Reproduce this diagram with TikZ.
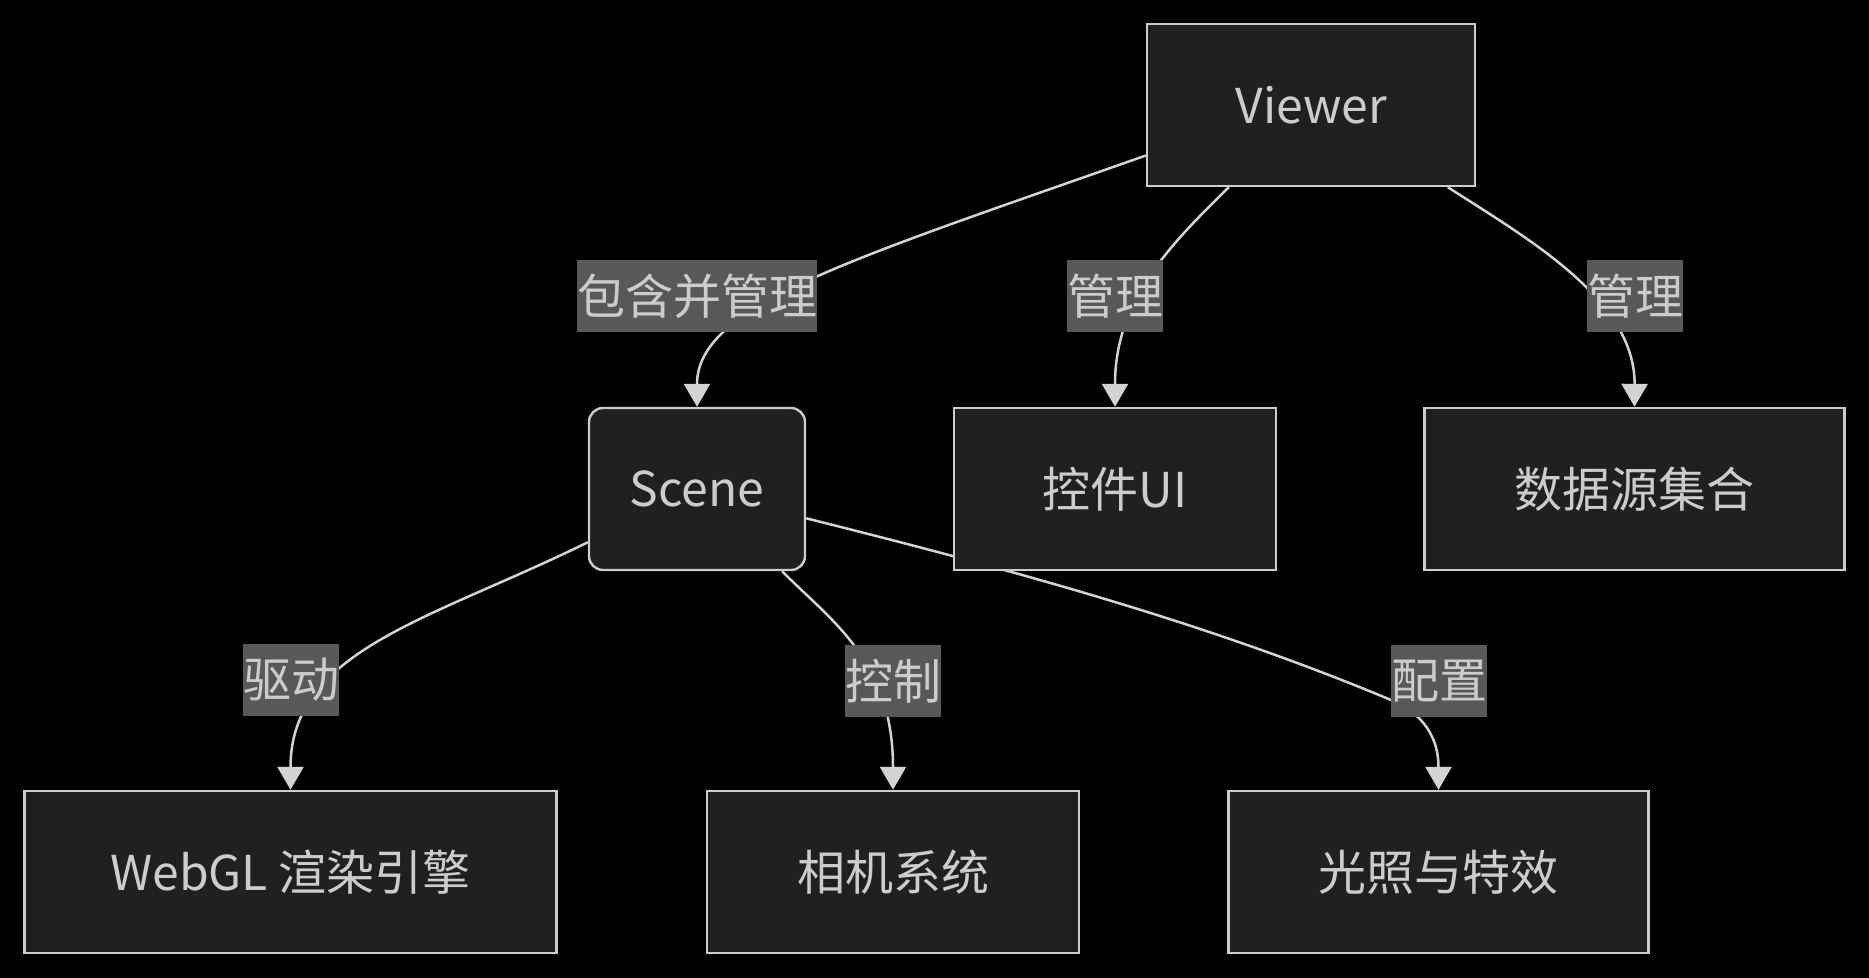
\documentclass[tikz,border=0pt]{standalone}
\usepackage{fontspec}
\setmainfont{Noto Sans CJK SC}
\usetikzlibrary{arrows.meta,backgrounds}
\definecolor{bgcol}{HTML}{000000}
\definecolor{nodefill}{HTML}{1F2020}
\definecolor{nodeline}{HTML}{CCCCCC}
\definecolor{txtcol}{HTML}{CCCCCC}
\definecolor{edgecol}{HTML}{D3D3D3}
\definecolor{lblfill}{HTML}{585858}
\begin{document}
\begin{tikzpicture}[x=0.5pt,y=-0.5pt,
  box/.style={draw=nodeline, fill=nodefill, line width=1.2pt, text=txtcol,
    font=\fontsize{24}{29}\selectfont, minimum height=81pt, inner sep=0pt},
  rbox/.style={box, rounded corners=7pt},
  elabel/.style={fill=lblfill, text=txtcol, font=\fontsize{24}{29}\selectfont,
    inner xsep=0pt, inner ysep=0pt, minimum height=36pt},
  conn/.style={draw=edgecol, line width=1.25pt, -{Triangle[width=13pt,length=11.5pt]}}
]
\useasboundingbox (0,0) rectangle (1869,978);
% nodes
\node[box, minimum width=164pt] (viewer) at (1311,105) {Viewer};
\node[rbox, minimum width=108pt] (scene) at (697,489) {Scene};
\node[box, minimum width=161pt] (ui) at (1115,489) {控件UI};
\node[box, minimum width=210pt] (data) at (1634.5,489) {数据源集合};
\node[box, minimum width=266pt] (webgl) at (290.5,872) {WebGL 渲染引擎};
\node[box, minimum width=186pt] (camera) at (893,872) {相机系统};
\node[box, minimum width=210pt] (light) at (1438.5,872) {光照与特效};
% edge labels
\node[elabel] (l1) at (697,296) {包含并管理};
\node[elabel] (l2) at (1115,296) {管理};
\node[elabel] (l3) at (1635,296) {管理};
\node[elabel] (l4) at (291,680) {驱动};
\node[elabel] (l5) at (893,681) {控制};
\node[elabel] (l6) at (1439,681) {配置};
% background and connectors
\begin{scope}[on background layer]
\fill[bgcol] (0,0) rectangle (1869,978);
\draw[conn] (viewer.197) .. controls (850,260) and (697,305) .. (scene.north);
\draw[conn] (viewer.225) .. controls (1170,245) and (1115,300) .. (ui.north);
\draw[conn] (viewer.329) .. controls (1530,240) and (1635,300) .. (data.north);
\draw[conn] (scene.206) .. controls (430,620) and (290.5,650) .. (webgl.north);
\draw[conn] (scene.316) .. controls (830,620) and (893,660) .. (camera.north);
\draw[conn] (scene.345) .. controls (1000,567) and (1200,620) .. (1391,700)
  .. controls (1415,710) and (1438.5,730) .. (light.north);
\end{scope}
\end{tikzpicture}
\end{document}
